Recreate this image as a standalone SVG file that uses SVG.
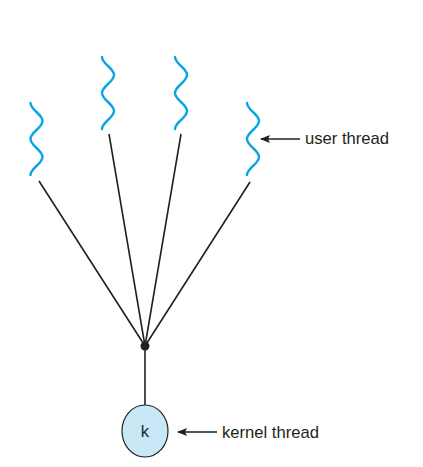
<svg xmlns="http://www.w3.org/2000/svg" width="423" height="467" viewBox="0 0 423 467">
  <style>
    .wave { fill: none; stroke: #0aa5e2; stroke-width: 2.4; stroke-linecap: round; }
    .link { fill: none; stroke: #231f20; stroke-width: 1.6; }
    .label { font-family: "Liberation Sans", Arial, sans-serif; font-size: 16.6px; fill: #231f20; }
  </style>
  <defs>
    <!-- one user thread squiggle, 72 px tall, centred on x=0 -->
    <path id="squiggle" d="M -6,0 C -6,7 6,11 6,18 C 6,25 -6,29 -6,36 C -6,43 6,47 6,54 C 6,61 -6,65 -6,72"/>
    <marker id="arrow" viewBox="0 0 10 10" refX="9" refY="5" markerWidth="10" markerHeight="10" markerUnits="userSpaceOnUse" orient="auto">
      <path d="M 10,5 L 0,1 L 2,5 L 0,9 Z" fill="#231f20"/>
    </marker>
  </defs>
  <rect width="423" height="467" fill="#ffffff"/>

  <g id="connectors">
    <line class="link" x1="145" y1="346" x2="39" y2="181"/>
    <line class="link" x1="145" y1="346" x2="109" y2="134"/>
    <line class="link" x1="145" y1="346" x2="181" y2="134"/>
    <line class="link" x1="145" y1="346" x2="250" y2="182"/>
    <line class="link" x1="145" y1="346" x2="145" y2="405"/>
    <circle cx="145" cy="346" r="4.5" fill="#231f20"/>
  </g>

  <g id="user-thread-1">
    <use href="#squiggle" class="wave" transform="translate(36.5,103)"/>
  </g>
  <g id="user-thread-2">
    <use href="#squiggle" class="wave" transform="translate(108,57)"/>
  </g>
  <g id="user-thread-3">
    <use href="#squiggle" class="wave" transform="translate(181,57)"/>
  </g>
  <g id="user-thread-4">
    <use href="#squiggle" class="wave" transform="translate(253,103)"/>
  </g>

  <g id="kernel-thread">
    <ellipse cx="145" cy="431" rx="23" ry="26" fill="#c8e8f8" stroke="#231f20" stroke-width="1.2"/>
    <text class="label" x="145" y="437" text-anchor="middle">k</text>
  </g>

  <g id="user-thread-label">
    <line class="link" x1="300" y1="139" x2="261" y2="139" marker-end="url(#arrow)"/>
    <text class="label" x="305" y="144">user thread</text>
  </g>

  <g id="kernel-thread-label">
    <line class="link" x1="217" y1="432" x2="178" y2="432" marker-end="url(#arrow)"/>
    <text class="label" x="222" y="438">kernel thread</text>
  </g>
</svg>
